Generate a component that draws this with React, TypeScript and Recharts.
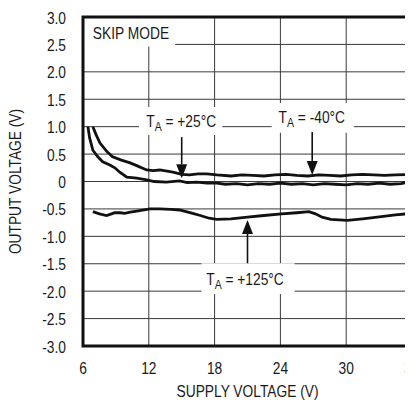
import React from 'react';
import {
  LineChart,
  Line,
  XAxis,
  YAxis,
  CartesianGrid,
  ReferenceArea,
  ReferenceLine,
  ReferenceDot,
} from 'recharts';

const FONT = "'Liberation Sans', Arial, sans-serif";
const FS = 17;
const SX = 0.81;
const INK = '#1a1a1a';

// Supply voltage ticks (V)
const xTicks = [6, 12, 18, 24, 30, 36];
// Output voltage ticks (V)
const yTicks = [-3, -2.5, -2, -1.5, -1, -0.5, 0, 0.5, 1, 1.5, 2, 2.5, 3];

// T_A = -40°C (upper curve)
const seriesM40 = [
  { v: 6.9, out: 1.0 }, { v: 7.2, out: 0.85 }, { v: 7.55, out: 0.7 }, { v: 8.2, out: 0.54 },
  { v: 8.7, out: 0.45 }, { v: 9.5, out: 0.39 }, { v: 10.3, out: 0.34 }, { v: 11.0, out: 0.28 },
  { v: 11.8, out: 0.21 }, { v: 12.4, out: 0.2 }, { v: 13.0, out: 0.21 }, { v: 14.2, out: 0.17 },
  { v: 15.0, out: 0.13 }, { v: 15.7, out: 0.12 }, { v: 16.5, out: 0.14 }, { v: 17.3, out: 0.14 },
  { v: 18.2, out: 0.12 }, { v: 19.5, out: 0.1 }, { v: 20.5, out: 0.12 }, { v: 21.5, out: 0.11 },
  { v: 22.5, out: 0.1 }, { v: 23.5, out: 0.12 }, { v: 24.5, out: 0.13 }, { v: 25.5, out: 0.11 },
  { v: 26.5, out: 0.1 }, { v: 27.5, out: 0.12 }, { v: 28.5, out: 0.11 }, { v: 29.5, out: 0.1 },
  { v: 30.5, out: 0.12 }, { v: 31.5, out: 0.13 }, { v: 32.5, out: 0.12 }, { v: 33.5, out: 0.11 },
  { v: 34.5, out: 0.12 }, { v: 36, out: 0.13 },
];

// T_A = +25°C (lower curve near zero)
const series25 = [
  { v: 6.45, out: 1.0 }, { v: 6.6, out: 0.8 }, { v: 6.9, out: 0.57 }, { v: 7.35, out: 0.45 },
  { v: 7.8, out: 0.36 }, { v: 8.45, out: 0.3 }, { v: 8.9, out: 0.25 }, { v: 9.35, out: 0.17 },
  { v: 10.0, out: 0.08 }, { v: 10.9, out: 0.06 }, { v: 11.8, out: 0.03 }, { v: 12.5, out: 0.0 },
  { v: 13.6, out: -0.01 }, { v: 14.8, out: 0.01 }, { v: 15.5, out: -0.02 }, { v: 16.4, out: -0.01 },
  { v: 17.3, out: -0.03 }, { v: 18.2, out: -0.03 }, { v: 19, out: -0.05 }, { v: 20, out: -0.04 },
  { v: 21, out: -0.06 }, { v: 22, out: -0.04 }, { v: 23, out: -0.05 }, { v: 24, out: -0.03 },
  { v: 25, out: -0.05 }, { v: 26, out: -0.04 }, { v: 27, out: -0.06 }, { v: 28, out: -0.04 },
  { v: 29, out: -0.05 }, { v: 30, out: -0.06 }, { v: 31, out: -0.04 }, { v: 32, out: -0.05 },
  { v: 33, out: -0.03 }, { v: 34, out: -0.05 }, { v: 35, out: -0.04 }, { v: 35.6, out: -0.01 },
  { v: 36, out: -0.04 },
];

// T_A = +125°C
const series125 = [
  { v: 6.9, out: -0.55 }, { v: 7.5, out: -0.59 }, { v: 8.15, out: -0.62 }, { v: 8.6, out: -0.59 },
  { v: 8.9, out: -0.57 }, { v: 9.4, out: -0.57 }, { v: 9.8, out: -0.58 }, { v: 10.3, out: -0.56 },
  { v: 10.9, out: -0.54 }, { v: 12.1, out: -0.5 }, { v: 13.0, out: -0.5 }, { v: 14.0, out: -0.51 },
  { v: 14.8, out: -0.52 }, { v: 16.0, out: -0.58 }, { v: 16.7, out: -0.62 }, { v: 17.5, out: -0.67 },
  { v: 18.2, out: -0.69 }, { v: 19.5, out: -0.68 }, { v: 21, out: -0.65 }, { v: 22.5, out: -0.62 },
  { v: 24.1, out: -0.59 }, { v: 25.5, out: -0.57 }, { v: 26.6, out: -0.55 }, { v: 27.2, out: -0.59 },
  { v: 27.8, out: -0.65 }, { v: 28.6, out: -0.69 }, { v: 30.1, out: -0.71 }, { v: 31.5, out: -0.68 },
  { v: 33.2, out: -0.64 }, { v: 34.5, out: -0.61 }, { v: 36, out: -0.58 },
];

// Annotation text (anchor in data units, baseline)
const notes = [
  { main: 'SKIP MODE', sub: '', rest: '', x: 6.9, y: 2.6, anchor: 'start' },
  { main: 'T', sub: 'A', rest: ' = +25°C', x: 14.95, y: 0.99, anchor: 'middle' },
  { main: 'T', sub: 'A', rest: ' = -40°C', x: 26.86, y: 1.07, anchor: 'middle' },
  { main: 'T', sub: 'A', rest: ' = +125°C', x: 20.77, y: -1.89, anchor: 'middle' },
];

// White boxes behind annotation text (data units)
const noteBoxes = [
  { x1: 6, x2: 14.4, y1: 2.46, y2: 3 },
  { x1: 11.1, x2: 18.7, y1: 0.85, y2: 1.36 },
  { x1: 23.2, x2: 30.7, y1: 0.89, y2: 1.43 },
  { x1: 16.8, x2: 25.3, y1: -2.05, y2: -1.49 },
];

// Arrows: from (x, yFrom) to tip (x, yTo)
const arrows = [
  { x: 15.0, yFrom: 0.81, yTo: 0.06 },
  { x: 26.9, yFrom: 0.9, yTo: 0.12 },
  { x: 21.0, yFrom: -1.49, yTo: -0.7 },
];

const NarrowText = ({ x, y, anchor, rotate, children }: any) => (
  <text
    x={0}
    y={0}
    transform={`translate(${x} ${y})${rotate ? ` rotate(${rotate})` : ''} scale(${SX} 1)`}
    textAnchor={anchor}
    fontFamily={FONT}
    fontSize={FS}
    fill={INK}
  >
    {children}
  </text>
);

const XTick = (props: any) => {
  const { x, y, payload } = props;
  return (
    <NarrowText x={x} y={y + 12} anchor="middle">
      {String(payload.value)}
    </NarrowText>
  );
};

const fmtY = (v: number) => (v === 0 ? '0' : v.toFixed(1));

const YTick = (props: any) => {
  const { x, y, payload } = props;
  return (
    <NarrowText x={x} y={y + 6.5} anchor="end">
      {fmtY(payload.value)}
    </NarrowText>
  );
};

const ArrowShape = (props: any) => {
  const { x1, y1, x2, y2 } = props;
  if ([x1, y1, x2, y2].some((n) => typeof n !== 'number' || isNaN(n))) return null;
  const dx = x2 - x1;
  const dy = y2 - y1;
  const len = Math.sqrt(dx * dx + dy * dy) || 1;
  const ux = dx / len;
  const uy = dy / len;
  const hl = 14;
  const hw = 5.5;
  const bx = x2 - ux * hl;
  const by = y2 - uy * hl;
  const pts = `${x2},${y2} ${bx - uy * hw},${by + ux * hw} ${bx + uy * hw},${by - ux * hw}`;
  return (
    <g>
      <line x1={x1} y1={y1} x2={bx} y2={by} stroke="#111" strokeWidth={1.6} />
      <polygon points={pts} fill="#111" />
    </g>
  );
};

const makeNoteShape = (n: any) => (props: any) => {
  const { cx, cy } = props;
  return (
    <NarrowText x={cx} y={cy} anchor={n.anchor}>
      <tspan>{n.main}</tspan>
      {n.sub ? (
        <tspan fontSize={13} dy={4}>
          {n.sub}
        </tspan>
      ) : null}
      {n.rest ? <tspan dy={n.sub ? -4 : 0}>{n.rest}</tspan> : null}
    </NarrowText>
  );
};

const YLabel = (props: any) => {
  const vb = props.viewBox || { x: 0, y: 9, width: 75, height: 329 };
  return (
    <NarrowText x={vb.x + 13} y={vb.y + vb.height / 2} anchor="middle" rotate={-90}>
      OUTPUT VOLTAGE (V)
    </NarrowText>
  );
};

const XLabel = (props: any) => {
  const vb = props.viewBox || { x: 75, y: 338, width: 329, height: 59 };
  return (
    <NarrowText x={vb.x + vb.width / 2} y={vb.y + 51} anchor="middle">
      SUPPLY VOLTAGE (V)
    </NarrowText>
  );
};

export default function App() {
  return (
    <div style={{ width: 405, height: 397, overflow: 'hidden' }}>
      <LineChart width={420} height={397} margin={{ top: 9, right: 16, left: 0, bottom: 0 }}>
        <CartesianGrid stroke="#3a3a3a" strokeWidth={1} />
        <XAxis
          type="number"
          dataKey="v"
          domain={[6, 36]}
          ticks={xTicks}
          allowDataOverflow
          axisLine={false}
          tickLine={false}
          tickSize={0}
          tickMargin={16}
          height={59}
          tick={(p: any) => <XTick {...p} />}
          label={{ content: (p: any) => <XLabel {...p} /> }}
        />
        <YAxis
          type="number"
          domain={[-3, 3]}
          ticks={yTicks}
          allowDataOverflow
          axisLine={false}
          tickLine={false}
          tickSize={0}
          tickMargin={17}
          width={75}
          tick={(p: any) => <YTick {...p} />}
          label={{ content: (p: any) => <YLabel {...p} /> }}
        />
        {noteBoxes.map((b, i) => (
          <ReferenceArea
            key={`box${i}`}
            x1={b.x1}
            x2={b.x2}
            y1={b.y1}
            y2={b.y2}
            fill="#ffffff"
            fillOpacity={1}
            stroke="none"
          />
        ))}
        <ReferenceArea
          x1={6}
          x2={36}
          y1={-3}
          y2={3}
          fill="none"
          fillOpacity={0}
          stroke="#111"
          strokeWidth={3}
        />
        <Line
          data={seriesM40}
          dataKey="out"
          type="linear"
          stroke="#111"
          strokeWidth={2.8}
          dot={false}
          activeDot={false}
          isAnimationActive={false}
        />
        <Line
          data={series25}
          dataKey="out"
          type="linear"
          stroke="#111"
          strokeWidth={2.8}
          dot={false}
          activeDot={false}
          isAnimationActive={false}
        />
        <Line
          data={series125}
          dataKey="out"
          type="linear"
          stroke="#111"
          strokeWidth={2.8}
          dot={false}
          activeDot={false}
          isAnimationActive={false}
        />
        {arrows.map((a, i) => (
          <ReferenceLine
            key={`arr${i}`}
            segment={[
              { x: a.x, y: a.yFrom },
              { x: a.x, y: a.yTo },
            ]}
            stroke="#111"
            shape={ArrowShape}
          />
        ))}
        {notes.map((n, i) => (
          <ReferenceDot key={`note${i}`} x={n.x} y={n.y} r={0} shape={makeNoteShape(n)} />
        ))}
      </LineChart>
    </div>
  );
}
